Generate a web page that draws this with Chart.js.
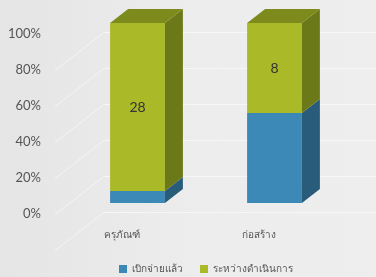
<!DOCTYPE html>
<html><head><meta charset="utf-8">
<script src="https://cdn.jsdelivr.net/npm/chart.js@4"></script>
<style>
html,body{margin:0;padding:0;background:#ebebeb;}
#wrap{width:376px;height:277px;background:linear-gradient(90deg,#e5e5e5 0%,#ededed 55%,#eeeeee 100%);}
canvas{display:block;}
</style></head>
<body><div id="wrap"><canvas id="c" width="376" height="277"></canvas></div>
<script>
const categories = ['ครุภัณฑ์', 'ก่อสร้าง'];
const seriesNames = ['เบิกจ่ายแล้ว', 'ระหว่างดำเนินการ'];
const paid = [2, 8];
const inProgress = [28, 8];
const tickLabels = ['0%', '20%', '40%', '60%', '80%', '100%'];

const totals = categories.map((_, i) => paid[i] + inProgress[i]);
const pct = arr => arr.map((v, i) => v / totals[i] * 100);

const DX = 18, DY = -14, LABEL_DY = 11;
const sideColors = ['#295b7b', '#6c7918'];
const topColors = ['#2f6e96', '#7d8b1d'];
const FONT = 'Lato, "Noto Sans", "DejaVu Sans", sans-serif';

const gridPlugin = {
  id: 'grid3d',
  beforeDatasetsDraw(chart) {
    const ctx = chart.ctx, y = chart.scales.y;
    ctx.save();
    ctx.strokeStyle = 'rgba(255,255,255,0.55)';
    ctx.lineWidth = 1;
    y.ticks.forEach(t => {
      const py = Math.round(y.getPixelForValue(t.value) + LABEL_DY - 2) + 0.5;
      ctx.beginPath();
      ctx.moveTo(55, py + 38);
      ctx.lineTo(104, py);
      ctx.lineTo(chart.width, py);
      ctx.stroke();
    });
    ctx.restore();
  }
};

const barPlugin = {
  id: 'bar3d',
  afterDatasetsDraw(chart) {
    const ctx = chart.ctx;
    const n = chart.data.datasets.length;
    ctx.save();
    for (let d = 0; d < n; d++) {
      const meta = chart.getDatasetMeta(d);
      meta.data.forEach((bar, i) => {
        const p = bar.getProps(['x', 'y', 'base', 'width'], true);
        const l = p.x - p.width / 2, r = p.x + p.width / 2;
        const top = Math.min(p.y, p.base), bot = Math.max(p.y, p.base);
        ctx.fillStyle = sideColors[d];
        ctx.beginPath();
        ctx.moveTo(r, top); ctx.lineTo(r + DX, top + DY);
        ctx.lineTo(r + DX, bot + DY); ctx.lineTo(r, bot);
        ctx.closePath(); ctx.fill();
        if (d === n - 1) {
          ctx.fillStyle = topColors[d];
          ctx.beginPath();
          ctx.moveTo(l, top); ctx.lineTo(l + DX, top + DY);
          ctx.lineTo(r + DX, top + DY); ctx.lineTo(r, top);
          ctx.closePath(); ctx.fill();
          ctx.fillStyle = '#333';
          ctx.font = '14px ' + FONT;
          ctx.textAlign = 'center';
          ctx.textBaseline = 'middle';
          ctx.fillText(String(inProgress[i]), p.x, (top + bot) / 2);
        }
      });
    }
    ctx.restore();
  }
};

new Chart(document.getElementById('c'), {
  type: 'bar',
  data: {
    labels: categories,
    datasets: [
      { label: seriesNames[0], data: pct(paid), backgroundColor: '#3c88b6', borderWidth: 0 },
      { label: seriesNames[1], data: pct(inProgress), backgroundColor: '#a9b927', borderWidth: 0 }
    ]
  },
  options: {
    responsive: false,
    animation: false,
    devicePixelRatio: 1,
    layout: { padding: { left: 0, right: 33, top: 23, bottom: -7 } },
    datasets: { bar: { barPercentage: 0.4, categoryPercentage: 1 } },
    plugins: {
      legend: {
        position: 'bottom',
        fullSize: false,
        labels: {
          boxWidth: 8, boxHeight: 8, padding: 17,
          color: '#555',
          font: { family: FONT, size: 10 }
        }
      },
      tooltip: { enabled: false }
    },
    scales: {
      x: {
        stacked: true,
        grid: { display: false, drawTicks: false },
        border: { display: false },
        ticks: { color: '#555', font: { family: FONT, size: 10 }, padding: 26, labelOffset: -16 },
        afterFit: s => { s.height = 44; }
      },
      y: {
        stacked: true,
        min: 0, max: 100,
        grid: { display: false, drawTicks: false },
        border: { display: false },
        ticks: {
          stepSize: 20,
          padding: 28,
          labelOffset: LABEL_DY,
          color: '#555',
          font: { family: FONT, size: 13 },
          callback: (v, i) => tickLabels[i]
        },
        afterFit: s => { s.width = 69; s.paddingTop = 0; s.paddingBottom = 0; }
      }
    }
  },
  plugins: [gridPlugin, barPlugin]
});
</script>
</body></html>
